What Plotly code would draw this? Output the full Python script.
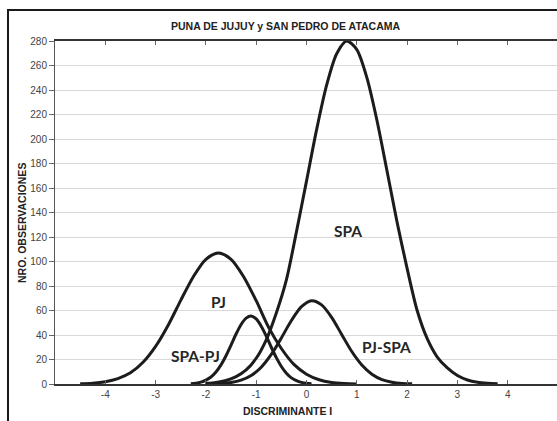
import plotly.graph_objects as go

# ---- data ----
pj_x = [-4.5, -4.25, -4.0, -3.75, -3.5, -3.25, -3.0, -2.75, -2.5, -2.25, -2.0, -1.75,
        -1.5, -1.25, -1.0, -0.75, -0.5, -0.25, 0.0, 0.25, 0.5, 0.75, 1.0]
pj_y = [0.25, 0.7, 1.9, 4.4, 9.1, 17.7, 30.7, 48.0, 68.3, 87.6, 101.8, 107.0,
        101.8, 87.6, 68.0, 46.0, 29.0, 16.0, 8.0, 3.5, 1.3, 0.4, 0.1]

spapj_x = [-2.3, -2.2, -2.1, -2.0, -1.9, -1.8, -1.7, -1.6, -1.5, -1.4, -1.3, -1.2, -1.1,
           -1.0, -0.9, -0.8, -0.7, -0.6, -0.5, -0.4, -0.3, -0.2, -0.1, 0.0, 0.1]
spapj_y = [0.3, 0.7, 1.5, 3.1, 5.7, 9.8, 15.6, 23.1, 31.8, 40.8, 48.6, 53.8, 55.5,
           53.1, 47.2, 39.1, 30.0, 21.5, 14.3, 8.8, 5.0, 2.7, 1.3, 0.6, 0.25]

pjspa_x = [-1.9, -1.7, -1.5, -1.3, -1.1, -0.9, -0.7, -0.5, -0.3, -0.1, 0.1,
           0.3, 0.5, 0.7, 0.9, 1.1, 1.3, 1.5, 1.7, 1.9, 2.1]
pjspa_y = [0.13, 0.4, 1.2, 3.1, 6.9, 13.7, 24.1, 37.6, 51.8, 63.1, 68.0,
           64.6, 54.4, 40.4, 26.5, 15.5, 8.0, 3.6, 1.5, 0.5, 0.16]

spa_x = [-2.0, -1.8, -1.6, -1.4, -1.2, -1.0, -0.8, -0.6, -0.4, -0.2, 0.0, 0.2, 0.4, 0.6,
         0.8, 1.0, 1.2, 1.4, 1.6, 1.8, 2.0, 2.2, 2.4, 2.6, 2.8, 3.0, 3.2, 3.4, 3.6, 3.8]
spa_y = [0.56, 1.3, 2.9, 6.0, 11.5, 21.0, 36.1, 58.0, 85.0, 124.2, 165.6, 207.4, 243.9, 269.6,
         280.0, 273.0, 250.1, 215.3, 174.1, 132.3, 94.4, 60.0, 37.0, 22.0, 13.1, 6.9, 3.3, 1.5, 0.7, 0.3]

x_ticks = [-4, -3, -2, -1, 0, 1, 2, 3, 4]
y_ticks = list(range(0, 281, 20))

title = "PUNA DE JUJUY y SAN PEDRO DE ATACAMA"
x_title = "DISCRIMINANTE I"
y_title = "NRO. OBSERVACIONES"
curve_labels = [("SPA", 0.83, 125), ("PJ", -1.74, 67), ("SPA-PJ", -2.2, 23), ("PJ-SPA", 1.6, 30)]

# ---- figure ----
W, H = 557, 421
L, R, T, B = 55, 0, 41, 37
pw, ph = W - L - R, H - T - B

fig = go.Figure()
line = dict(color="#1c1c1c", width=3, shape="spline", smoothing=0.8)
for xs, ys in [(pj_x, pj_y), (spapj_x, spapj_y), (pjspa_x, pjspa_y), (spa_x, spa_y)]:
    fig.add_trace(go.Scatter(x=xs, y=ys, mode="lines", line=line, hoverinfo="skip", showlegend=False))

for txt, lx, ly in curve_labels:
    fig.add_annotation(x=lx, y=ly, text="<b>" + txt + "</b>", showarrow=False,
                       font=dict(family="Lato", size=15.5, color="#262626"), xanchor="center", yanchor="middle")

def px_x(p):
    return (p - L) / pw

def px_y(p):
    return (H - B - p) / ph

fig.add_annotation(xref="paper", yref="paper", x=px_x(286), y=px_y(26), text="<b>" + title + "</b>",
                   showarrow=False, font=dict(family="Liberation Sans", size=10.5, color="#222"),
                   xanchor="center", yanchor="middle")
fig.add_annotation(xref="paper", yref="paper", x=px_x(287), y=px_y(411), text="<b>" + x_title + "</b>",
                   showarrow=False, font=dict(family="Liberation Sans", size=10.5, color="#222"),
                   xanchor="center", yanchor="middle")
fig.add_annotation(xref="paper", yref="paper", x=px_x(22), y=px_y(223), text="<b>" + y_title + "</b>",
                   showarrow=False, textangle=-90, font=dict(family="Liberation Sans", size=10.5, color="#222"),
                   xanchor="center", yanchor="middle")

# outer frame
fig.add_shape(type="rect", xref="paper", yref="paper",
              x0=px_x(8), x1=px_x(W + 10), y0=px_y(H + 10), y1=px_y(10),
              line=dict(color="#1a1a1a", width=2), fillcolor="rgba(0,0,0,0)", layer="above")

fig.update_layout(
    width=W, height=H, margin=dict(l=L, r=R, t=T, b=B),
    paper_bgcolor="white", plot_bgcolor="white",
    hovermode=False,
    xaxis=dict(range=[-5, (W - 306) / 50.4], tickvals=x_ticks, ticktext=[str(v) for v in x_ticks],
               showgrid=False, zeroline=False, showline=True, linecolor="#333", linewidth=1.5,
               mirror="ticks", ticks="inside", ticklen=4, tickcolor="#666",
               tickfont=dict(family="Liberation Sans", size=10, color="#444")),
    yaxis=dict(range=[0, 280], tickvals=y_ticks, showgrid=True, gridcolor="#d9d9d9", gridwidth=1,
               zeroline=False, showline=True, linecolor="#555", linewidth=1,
               ticks="outside", ticklen=5, tickcolor="#666",
               tickfont=dict(family="Liberation Sans", size=10, color="#444")),
)

fig.write_html("out.html")
